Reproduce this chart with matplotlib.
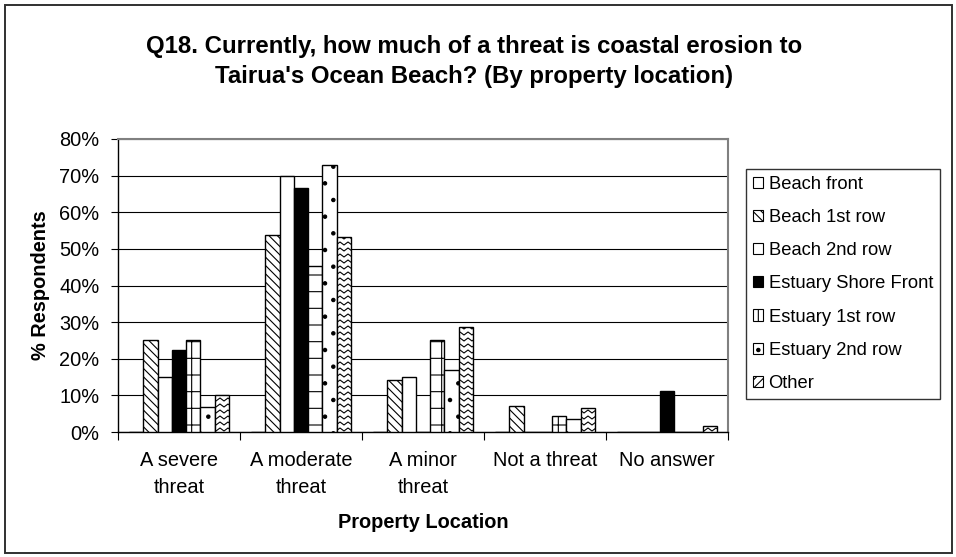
import matplotlib
matplotlib.use("Agg")
import matplotlib.pyplot as plt
import numpy as np
from matplotlib.patches import Rectangle, Patch
from matplotlib.lines import Line2D
from matplotlib.transforms import IdentityTransform
from matplotlib.ticker import FixedLocator, NullFormatter

plt.rcParams['font.family'] = ['Liberation Sans', 'DejaVu Sans']
plt.rcParams['hatch.linewidth'] = 0.8
plt.rcParams['hatch.color'] = 'black'

# ---- data -------------------------------------------------------------
categories = ["A severe\nthreat", "A moderate\nthreat", "A minor\nthreat",
              "Not a threat", "No answer"]
series_names = ["Beach front", "Beach 1st row", "Beach 2nd row",
                "Estuary Shore Front", "Estuary 1st row", "Estuary 2nd row",
                "Other"]
beach_front = [0.0, 0.0, 0.0, 0.0, 0.0]
beach_1st_row = [25.0, 53.7, 14.3, 7.2, 0.0]
beach_2nd_row = [15.0, 70.0, 15.0, 0.0, 0.0]
estuary_shore_front = [22.3, 66.6, 0.0, 0.0, 11.1]
estuary_1st_row = [25.0, 45.4, 25.0, 4.5, 0.0]
estuary_2nd_row = [6.9, 72.8, 17.0, 3.5, 0.0]
other = [10.0, 53.2, 28.8, 6.6, 1.7]
y_ticks = [0, 10, 20, 30, 40, 50, 60, 70, 80]
y_tick_labels = ["0%", "10%", "20%", "30%", "40%", "50%", "60%", "70%", "80%"]

series_values = [beach_front, beach_1st_row, beach_2nd_row,
                 estuary_shore_front, estuary_1st_row, estuary_2nd_row, other]
face_colors = ['white', 'white', 'white', 'black', 'white', 'white', 'white']
hatches = [None, '\\\\\\\\', None, None, '+', '.', None]

W, H = 956, 557
fig = plt.figure(figsize=(W / 100, H / 100), dpi=100)
fig.patch.set_facecolor('white')

# plot area in pixel coordinates
px_left, px_right, px_top, px_bottom = 118, 728, 139, 432
ax = fig.add_axes([px_left / W, 1 - px_bottom / H,
                   (px_right - px_left) / W, (px_bottom - px_top) / H])

n_cat = len(categories)
n_ser = len(series_values)
bar_w = 0.117
centers = np.arange(n_cat) + 0.5

containers = []
for j, vals in enumerate(series_values):
    xs = centers + (j - (n_ser - 1) / 2) * bar_w
    bc = ax.bar(xs, vals, width=bar_w, color=face_colors[j],
                edgecolor='black', linewidth=1.0, hatch=hatches[j],
                zorder=3)
    containers.append(bc)

ax.set_xlim(0, n_cat)
ax.set_ylim(0, 80)

# gridlines
ax.yaxis.set_major_locator(FixedLocator(y_ticks))
ax.set_yticklabels(y_tick_labels)
ax.grid(axis='y', color='black', linewidth=0.8, zorder=0)
ax.set_axisbelow(True)

# category ticks at boundaries, labels centred
ax.xaxis.set_major_locator(FixedLocator(np.arange(n_cat + 1)))
ax.xaxis.set_major_formatter(NullFormatter())
ax.xaxis.set_minor_locator(FixedLocator(centers))
ax.set_xticklabels(categories, minor=True)
ax.tick_params(axis='x', which='major', direction='out', length=5.5,
               width=0.8, color='black')
ax.tick_params(axis='x', which='minor', length=0, pad=14, labelsize=14.4)
ax.tick_params(axis='y', direction='out', length=5, width=0.8,
               pad=8.5, labelsize=14.4)
for lbl in ax.get_xticklabels(minor=True):
    lbl.set_linespacing(1.5)
    lbl.set_multialignment('center')

for side in ['top', 'right']:
    ax.spines[side].set_color('#808080')
    ax.spines[side].set_linewidth(1.5)
for side in ['left', 'bottom']:
    ax.spines[side].set_color('black')
    ax.spines[side].set_linewidth(1.0)

# zigzag fill for the "Other" bars, drawn in pixel space and clipped
fig.canvas.draw()
zz_period, zz_amp, zz_gap = 8.0, 3.0, 6.0
for rect in containers[-1].patches:
    bb = rect.get_window_extent()
    if bb.height < 0.5:
        continue
    x0 = np.floor(bb.x0 / zz_period) * zz_period
    x1 = bb.x1 + zz_period
    xs_z = np.arange(x0, x1 + 0.01, zz_period / 2)
    offs = np.where(np.arange(len(xs_z)) % 2 == 0, 0.0, zz_amp)
    y = np.floor(bb.y0 / zz_gap) * zz_gap
    while y < bb.y1 + zz_gap:
        ln = Line2D(xs_z, y + offs, transform=IdentityTransform(),
                    color='black', linewidth=0.8, zorder=4)
        ln.set_clip_path(rect)
        fig.add_artist(ln)
        y += zz_gap

# titles
fig.text(474 / W, 1 - 47 / H,
         "Q18. Currently, how much of a threat is coastal erosion to",
         ha='center', va='center', fontsize=17.3, fontweight='bold')
fig.text(474 / W, 1 - 77 / H,
         "Tairua's Ocean Beach? (By property location)",
         ha='center', va='center', fontsize=17.3, fontweight='bold')
fig.text(423 / W, 1 - 522 / H, "Property Location", ha='center',
         va='center', fontsize=14.4, fontweight='bold')
fig.text(41 / W, 1 - 285 / H, "% Respondents", ha='center', va='center',
         rotation=90, fontsize=14.4, fontweight='bold')

# legend
handles = [Patch(facecolor=face_colors[j], edgecolor='black', linewidth=0.8,
                 hatch=(hatches[j] if j != n_ser - 1 else '////'))
           for j in range(n_ser)]
leg = fig.legend(handles, series_names, loc='upper left',
                 bbox_to_anchor=(746 / W, 1 - 169 / H),
                 bbox_transform=fig.transFigure, frameon=True,
                 fontsize=13.2, handlelength=0.55, handleheight=0.55,
                 handletextpad=0.3, labelspacing=0.88, borderpad=0.38,
                 borderaxespad=0, fancybox=False, shadow=False)
leg.get_frame().set_edgecolor('black')
leg.get_frame().set_linewidth(1.0)

# outer chart border
fig.add_artist(Rectangle((4.5 / W, 4.5 / H), (W - 9) / W, (H - 9) / H,
                         transform=fig.transFigure, fill=False,
                         edgecolor='#303030', linewidth=1.4))

fig.savefig("out.png", dpi=100, facecolor='white')
